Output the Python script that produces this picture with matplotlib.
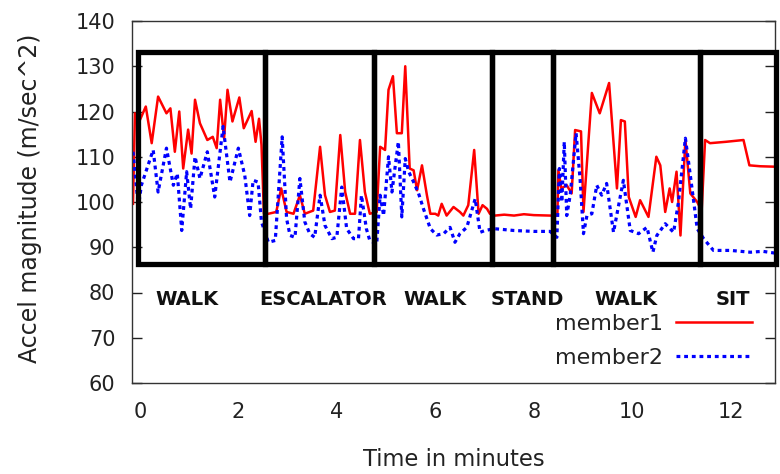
import matplotlib
matplotlib.use("Agg")
import matplotlib.pyplot as plt
from matplotlib.patches import Rectangle

# accelerometer magnitude of the two group members, sampled over the trip
member1_t = [-0.14, -0.10, 0.00, 0.12, 0.24, 0.37, 0.54, 0.62, 0.71, 0.80, 0.88, 0.98,
             1.05, 1.12, 1.22, 1.37, 1.48, 1.56, 1.63, 1.71, 1.78, 1.88, 2.02, 2.11,
             2.27, 2.35, 2.42, 2.47, 2.52, 2.61, 2.77, 2.87, 2.98, 3.12, 3.25, 3.35,
             3.52, 3.66, 3.76, 3.86, 3.96, 4.07, 4.17, 4.27, 4.37, 4.47, 4.57, 4.67,
             4.81, 4.88, 4.98, 5.05, 5.14, 5.22, 5.32, 5.39, 5.48, 5.56, 5.63, 5.73,
             5.83, 5.90, 6.00, 6.06, 6.13, 6.23, 6.37, 6.50, 6.57, 6.67, 6.79, 6.88,
             6.96, 7.05, 7.11, 7.21, 7.40, 7.60, 7.80, 8.00, 8.33, 8.48, 8.50, 8.56,
             8.67, 8.77, 8.84, 8.96, 9.01, 9.18, 9.34, 9.53, 9.69, 9.77, 9.85, 9.93,
             10.07, 10.16, 10.33, 10.49, 10.57, 10.67, 10.76, 10.81, 10.90, 10.98,
             11.08, 11.18, 11.32, 11.41, 11.48, 11.58, 11.90, 12.26, 12.38, 12.60, 12.90]
member1_v = [99.6, 119.6, 118.1, 121.1, 113.0, 123.3, 119.6, 120.7, 111.1, 120.0, 107.4, 116.0,
             110.7, 122.6, 117.4, 113.7, 114.4, 111.9, 122.6, 114.1, 124.8, 117.8, 123.1, 116.3,
             120.1, 113.3, 118.4, 112.6, 97.4, 97.4, 97.8, 103.0, 97.8, 97.4, 101.5, 97.4,
             98.1, 112.2, 101.5, 97.8, 98.1, 114.8, 102.2, 97.4, 97.4, 113.7, 102.2, 97.4,
             97.8, 112.2, 111.5, 124.8, 127.8, 115.2, 115.2, 130.0, 107.4, 107.0, 102.6, 108.1,
             101.5, 97.4, 97.4, 97.0, 99.6, 97.0, 98.9, 97.8, 97.0, 99.3, 111.5, 97.4,
             99.3, 98.5, 97.4, 97.0, 97.2, 97.0, 97.3, 97.1, 97.0, 97.0, 107.0, 103.0,
             103.7, 101.9, 115.9, 115.6, 97.8, 124.1, 119.6, 126.3, 103.0, 118.1, 117.8, 101.1,
             96.7, 100.4, 96.7, 110.0, 108.1, 97.8, 103.0, 100.0, 106.7, 92.6,
             113.7, 101.9, 100.0, 98.1, 113.7, 113.0, 113.3, 113.7, 108.1, 107.9, 107.8]

member2_t = [-0.14, -0.03, 0.03, 0.27, 0.37, 0.54, 0.68, 0.76, 0.85, 0.95, 1.03, 1.12,
             1.22, 1.37, 1.52, 1.69, 1.83, 2.00, 2.13, 2.23, 2.30, 2.40, 2.47, 2.61,
             2.75, 2.89, 2.98, 3.05, 3.15, 3.25, 3.35, 3.45, 3.55, 3.66, 3.76, 3.90,
             4.00, 4.10, 4.20, 4.34, 4.44, 4.50, 4.60, 4.67, 4.81, 4.88, 4.95, 5.05,
             5.12, 5.18, 5.25, 5.32, 5.39, 5.46, 5.56, 5.66, 5.76, 5.90, 6.03, 6.17,
             6.30, 6.40, 6.50, 6.64, 6.81, 6.91, 7.01, 7.20, 7.60, 8.00, 8.33, 8.47,
             8.52, 8.57, 8.62, 8.67, 8.74, 8.86, 8.94, 9.01, 9.08, 9.18, 9.28, 9.38,
             9.48, 9.62, 9.82, 9.96, 10.13, 10.30, 10.42, 10.50, 10.67, 10.84, 10.94, 11.08,
             11.18, 11.32, 11.45, 11.65, 12.00, 12.40, 12.65, 12.90]
member2_v = [111.1, 98.9, 103.7, 111.5, 102.2, 111.9, 103.7, 106.3, 93.7, 106.7, 98.5, 110.0,
             105.2, 111.1, 101.1, 116.7, 104.4, 111.9, 105.9, 97.0, 104.8, 104.4, 95.6, 91.1,
             91.5, 114.4, 96.3, 92.6, 92.2, 105.2, 95.6, 93.0, 92.2, 101.5, 94.8, 91.9,
             92.2, 103.3, 94.1, 91.9, 91.9, 101.5, 94.1, 91.5, 90.7, 101.5, 97.0, 110.0,
             102.2, 107.4, 113.3, 96.7, 109.6, 106.7, 104.4, 101.9, 98.5, 94.1, 92.7, 93.0,
             94.4, 91.1, 93.0, 94.4, 100.7, 93.3, 93.7, 94.1, 93.7, 93.5, 93.5, 92.2,
             107.4, 100.0, 113.3, 97.0, 101.5, 115.2, 105.2, 93.0, 97.0, 97.4, 103.7, 101.5,
             104.1, 93.3, 104.8, 93.7, 93.0, 94.4, 88.9, 92.6, 95.2, 93.3, 100.0, 114.1,
             105.9, 94.1, 91.9, 89.3, 89.3, 88.9, 89.1, 88.7]

# activity segments (minutes) and their names
segment_edges = [-0.03, 2.55, 4.76, 7.15, 8.40, 11.37, 12.93]
activities = ["WALK", "ESCALATOR", "WALK", "STAND", "WALK", "SIT"]
activity_label_x = [0.95, 3.72, 6.0, 7.87, 9.88, 12.05]
box_low, box_high = 86.3, 133.2

plt.rcParams["font.family"] = "DejaVu Sans"

fig = plt.figure(figsize=(7.8, 4.74), dpi=100)
ax = fig.add_axes([132 / 780, 1 - 383 / 474, 643 / 780, 362 / 474])

ax.plot(member1_t, member1_v, color="#ff0000", lw=1.8, label="member1", zorder=2)
ax.plot(member2_t, member2_v, color="#0000ff", lw=2.3, linestyle=(0, (1.2, 1.2)),
        label="member2", zorder=2)

for x0, x1 in zip(segment_edges[:-1], segment_edges[1:]):
    ax.add_patch(Rectangle((x0, box_low), x1 - x0, box_high - box_low, fill=False,
                           ec="black", lw=3.8, zorder=3, clip_on=False))

for name, x in zip(activities, activity_label_x):
    ax.text(x, 78.5, name, ha="center", va="center", fontsize=14, fontweight="bold",
            color="#111111")

ax.set_xlim(-0.16, 12.9)
ax.set_ylim(60, 140)
ax.set_xticks([0, 2, 4, 6, 8, 10, 12])
ax.set_yticks(range(60, 141, 10))
ax.tick_params(axis="x", length=0, pad=14, labelsize=15, colors="#222222")
ax.tick_params(axis="y", direction="in", length=7, width=1, pad=12, labelsize=15,
               colors="#222222", right=True)
for s in ax.spines.values():
    s.set_linewidth(1.0)
    s.set_color("#333333")

ax.set_xlabel("Time in minutes", fontsize=16.3, color="#222222")
ax.xaxis.set_label_coords(0.5, -0.18)
ax.set_ylabel("Accel magnitude (m/sec^2)", fontsize=17, color="#222222")
ax.yaxis.set_label_coords(-0.14, 0.51)

leg = ax.legend(loc="upper right", bbox_to_anchor=(0.964, 0.19), frameon=False,
                markerfirst=False, fontsize=16, handlelength=3.4, handletextpad=0.6,
                borderpad=0, borderaxespad=0, labelspacing=0.62)
for t in leg.get_texts():
    t.set_color("#222222")

fig.savefig("out.png", dpi=100)
